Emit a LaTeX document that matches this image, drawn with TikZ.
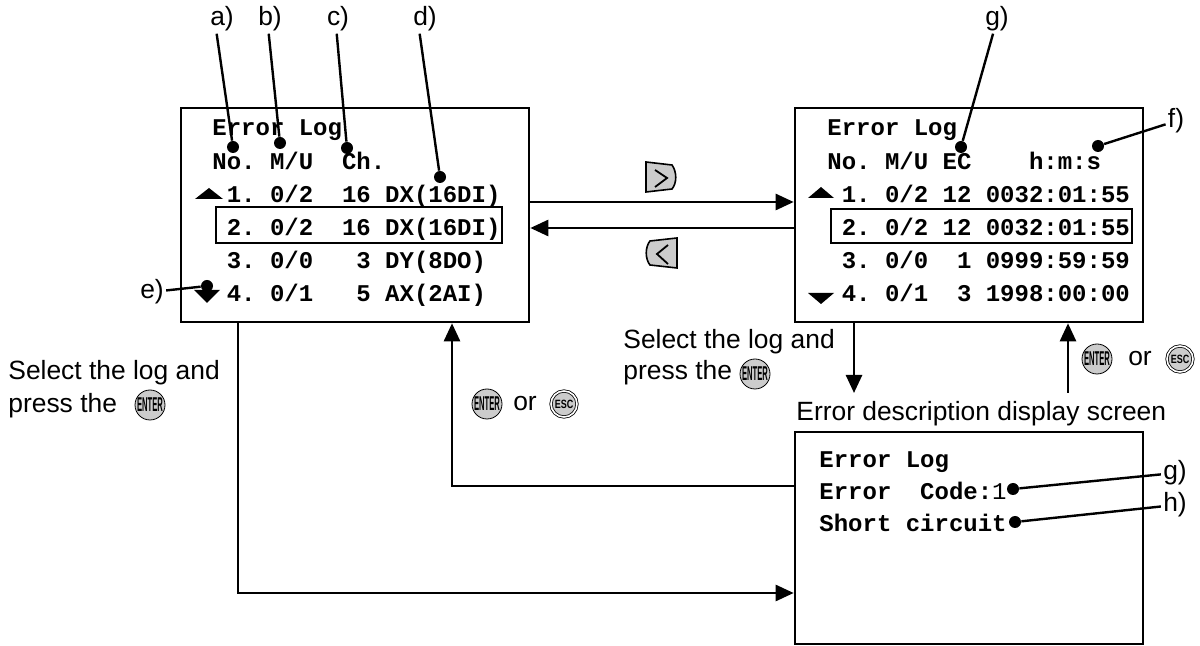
\documentclass[tikz,border=0pt]{standalone}
\usepackage{graphicx}
\usepackage{fontspec}
\setmainfont{Liberation Sans}
\setmonofont{Liberation Mono}
\usepackage{tikz}
\usetikzlibrary{arrows.meta}
\definecolor{keygray}{gray}{0.8}
\tikzstyle{screen} = [rectangle, draw=black, line width=1.3pt, inner sep=0pt, minimum width=174pt]
\tikzstyle{lcd} = [anchor=base west, inner sep=0pt, font=\ttfamily\bfseries\fontsize{12}{12}\selectfont]
\tikzstyle{caption} = [anchor=base west, inner sep=0pt, font=\fontsize{13.2}{15}\selectfont]
\tikzstyle{tag} = [inner sep=1pt, font=\fontsize{13.2}{15}\selectfont]
\tikzstyle{dot} = [circle, fill=black, inner sep=0pt, minimum size=6pt]
\tikzstyle{pointer} = [line width=1.2pt]
\tikzstyle{flow} = [line width=1.3pt, -{Triangle[length=9pt, width=8pt]}]
\tikzstyle{enterkey} = [circle, draw=black, fill=keygray, inner sep=0pt, minimum size=15pt,
                    font=\fontsize{10}{10}\selectfont\bfseries]
\tikzstyle{esckey} = [circle, draw=black, double=white, double distance=0.8pt, fill=keygray,
                    inner sep=0pt, minimum size=13pt, font=\fontsize{6}{6}\selectfont\bfseries]

\begin{document}
\begin{tikzpicture}[x=0.5pt, y=-0.5pt]
					\useasboundingbox (0,0) rectangle (1200,646);

					\node (LogScr) [screen, minimum height=107pt] at (355,215) {};
					\node (TimeScr) [screen, minimum height=107pt] at (969,215) {};
					\node (DescScr) [screen, minimum height=106pt] at (969,538) {};

					% log list
					\node (LogTitle) [lcd] at (212,136) {Error~Log};
					\node (LogHead) [lcd] at (212,170) {No.~M/U~~Ch.};
					\node (LogRow1) [lcd] at (212,203) {~1.~0/2~~16~DX(16DI)};
					\node (LogRow2) [lcd] at (212,236) {~2.~0/2~~16~DX(16DI)};
					\node (LogRow3) [lcd] at (212,269) {~3.~0/0~~~3~DY(8DO)};
					\node (LogRow4) [lcd] at (212,302) {~4.~0/1~~~5~AX(2AI)};
					\draw[line width=0.9pt] (216,207) rectangle (502,243);
					\fill (195,199) -- (223,199) -- (209,188) -- cycle;
					\fill (194,290) -- (220,290) -- (207,303) -- cycle;

					% time list
					\node (TimeTitle) [lcd] at (827,136) {Error~Log};
					\node (TimeHead) [lcd] at (827,170) {No.~M/U~EC~~~~h:m:s};
					\node (TimeRow1) [lcd] at (827,203) {~1.~0/2~12~0032:01:55};
					\node (TimeRow2) [lcd] at (827,236) {~2.~0/2~12~0032:01:55};
					\node (TimeRow3) [lcd] at (827,269) {~3.~0/0~~1~0999:59:59};
					\node (TimeRow4) [lcd] at (827,302) {~4.~0/1~~3~1998:00:00};
					\draw[line width=0.9pt] (831,209) rectangle (1132,243);
					\fill (808,198) -- (834,198) -- (821,187) -- cycle;
					\fill (808,293) -- (834,293) -- (821,304) -- cycle;

					% description
					\node (DescTitle) [lcd] at (819,468) {Error~Log};
					\node (DescCode) [lcd] at (819,500) {Error~~Code:{\mdseries 1}};
					\node (DescText) [lcd] at (819,531) {Short~circuit};
					\node (DescLbl) [caption] at (796,421) {Error description display screen};

					% keys
					\filldraw[fill=keygray, line width=0.8pt] (646,162) -- (672,165)
						.. controls (677,172) and (677,183) .. (672,189) -- (646,192) -- cycle;
					\draw[line width=0.9pt] (655,170) -- (667,178) -- (655,187);
					\filldraw[fill=keygray, line width=0.8pt] (650,241) -- (677,238) -- (677,268) -- (650,265)
						.. controls (645,259) and (645,247) .. (650,241) -- cycle;
					\draw[line width=0.9pt] (668,245) -- (657,254) -- (668,264);

					\draw[flow] ([yshift=6.5pt]LogScr.east) -- ([yshift=6.5pt]TimeScr.west);
					\draw[flow] ([yshift=-6.5pt]TimeScr.west) -- ([yshift=-6.5pt]LogScr.east);

					% select
					\coordinate (SelDown) at (854,393);
					\draw[flow] (TimeScr.south -| SelDown) -- (SelDown);
					\node (SelText1) [caption] at (623,349) {Select the log and};
					\node (SelText2) [caption] at (623,380) {press the};
					\node (SelEnter) [enterkey] at (755,374) {\scalebox{0.38}[1]{ENTER}};

					\coordinate (SelUp) at (1068,393);
					\draw[flow] (SelUp) -- (SelUp |- TimeScr.south);
					\node (UpEnter) [enterkey] at (1097,359) {\scalebox{0.38}[1]{ENTER}};
					\node (UpOr) [tag] at (1140,359) {or};
					\node (UpEsc) [esckey] at (1180,359) {\scalebox{0.75}[1]{ESC}};

					\coordinate (EnterTurn) at (238,593);
					\draw[flow] (LogScr.south -| EnterTurn) -- (EnterTurn) -- (EnterTurn -| DescScr.west);
					\node (LogText1) [caption] at (8,380) {Select the log and};
					\node (LogText2) [caption] at (8,413) {press the};
					\node (LogEnter) [enterkey] at (150,405) {\scalebox{0.38}[1]{ENTER}};

					\coordinate (BackTurn) at (452,486);
					\draw[flow] (BackTurn -| DescScr.west) -- (BackTurn) -- (BackTurn |- LogScr.south);
					\node (BackEnter) [enterkey] at (487,404) {\scalebox{0.38}[1]{ENTER}};
					\node (BackOr) [tag] at (525,404) {or};
					\node (BackEsc) [esckey] at (564,404) {\scalebox{0.75}[1]{ESC}};

					% tags
					\node (TagA) [tag] at (222,19) {a)};
					\node (DotA) [dot] at (233,147) {};
					\draw[pointer] (TagA.250) -- (DotA);
					\node (TagB) [tag] at (270,19) {b)};
					\node (DotB) [dot] at (280,143) {};
					\draw[pointer] (TagB.265) -- (DotB);
					\node (TagC) [tag] at (338,19) {c)};
					\node (DotC) [dot] at (347,148) {};
					\draw[pointer] (TagC.265) -- (DotC);
					\node (TagD) [tag] at (425,19) {d)};
					\node (DotD) [dot] at (440,177) {};
					\draw[pointer] (TagD.250) -- (DotD);
					\node (TagE) [tag] at (152,292) {e)};
					\node (DotE) [dot] at (207,286) {};
					\draw[pointer] (TagE) -- (DotE);
					\node (TagF) [tag] at (1176,121) {f)};
					\node (DotF) [dot] at (1098,146) {};
					\draw[pointer] (TagF) -- (DotF);
					\node (TagG) [tag] at (997,19) {g)};
					\node (DotG) [dot] at (961,147) {};
					\draw[pointer] (TagG.255) -- (DotG);
					\node (TagCode) [tag] at (1175,473) {g)};
					\node (DotCode) [dot] at (1013,489) {};
					\draw[pointer] (TagCode) -- (DotCode);
					\node (TagH) [tag] at (1175,505) {h)};
					\node (DotH) [dot] at (1015,522) {};
					\draw[pointer] (TagH) -- (DotH);
				\end{tikzpicture}
\end{document}
